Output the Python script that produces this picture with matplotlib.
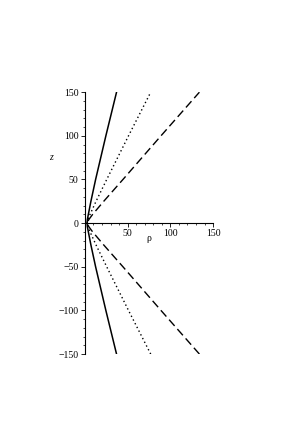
import matplotlib.pyplot as plt
from matplotlib.ticker import MultipleLocator

plt.rcParams["font.family"] = ["Liberation Serif", "DejaVu Serif"]

# values (z, rho), symmetric in z
z_pts = [-150, -100, -50, -25, -10, -4, 0, 4, 10, 25, 50, 100, 150]
rho_solid = [37, 24.5, 12.5, 7, 4, 2.8, 2.5, 2.8, 4, 7, 12.5, 24.5, 37]
rho_dotted = [77, 51, 25.5, 13, 6, 3.5, 2.5, 3.5, 6, 13, 25.5, 51, 77]
rho_dashed = [134, 89, 44.5, 22, 9, 4.5, 2.5, 4.5, 9, 22, 44.5, 89, 134]

x_ticks = [50, 100, 150]
y_ticks = [-150, -100, -50, 0, 50, 100, 150]
y_labels = ["\u2212150", "\u2212100", "\u221250", "0", "50", "100", "150"]

fig = plt.figure(figsize=(2.98, 4.21), dpi=100)
ax = fig.add_axes([0.285, 0.159, 0.43, 0.622])

ax.plot(rho_solid, z_pts, color="black", lw=1.1, ls="-")
ax.plot(rho_dotted, z_pts, color="black", lw=1.0, ls=(0, (1, 2)))
ax.plot(rho_dashed, z_pts, color="black", lw=1.0, ls=(0, (6, 3)))

ax.set_xlim(0, 150)
ax.set_ylim(-150, 150)

ax.spines["left"].set_position(("data", 0))
ax.spines["bottom"].set_position(("data", 0))
ax.spines["top"].set_visible(False)
ax.spines["right"].set_visible(False)
for s in ("left", "bottom"):
    ax.spines[s].set_linewidth(0.8)

ax.set_xticks(x_ticks)
ax.set_yticks(y_ticks)
ax.set_yticklabels(y_labels)
ax.xaxis.set_minor_locator(MultipleLocator(10))
ax.yaxis.set_minor_locator(MultipleLocator(10))
ax.tick_params(which="major", length=3, width=0.6, labelsize=7, pad=1.5)
ax.tick_params(which="minor", length=1.5, width=0.5)

ax.text(75, -12, "\u03c1", fontsize=7, ha="center", va="top")
ax.text(-40, 75, "z", fontsize=7, style="italic", ha="center", va="center",
        clip_on=False)

fig.savefig("out.png", dpi=100)
